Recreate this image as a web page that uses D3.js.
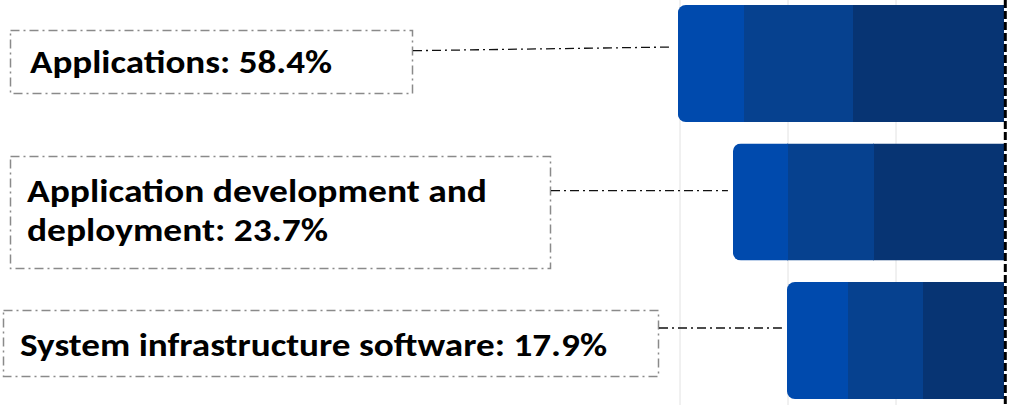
<!DOCTYPE html>
<html>
<head>
<meta charset="utf-8">
<script src="https://cdn.jsdelivr.net/npm/d3@7"></script>
<style>
  html, body { margin: 0; padding: 0; background: #fff; }
  svg { display: block; }
  .lbl { font-family: Carlito, Calibri, Lato, sans-serif; font-weight: 700; fill: #000; }
</style>
</head>
<body>
<div id="chart"></div>
<script>
// Donnees
const categories = ["Applications", "Application development and deployment", "System infrastructure software"];
const shares = [58.4, 23.7, 17.9];
const labelLines = [
    ["Applications: 58.4%"],
    ["Application development and", "deployment: 23.7%"],
    ["System infrastructure software: 17.9%"]
];
// segments, de droite (fonce) a gauche (clair)
const segDark = [1.41, 1.21, 0.76];
const segMid = [1.01, 0.80, 0.69];
const segLight = [0.60, 0.50, 0.56];
const gridTicks = [1, 2, 3];

const segColors = ["#073473", "#06418f", "#004aad"];

// mise en page des etiquettes
const boxes = [
    {x: 10, y: 30, w: 402, h: 63, tx: 30, base: [73], len: [302], ly0: 50.7, ly1: 47},
    {x: 10, y: 156, w: 540, h: 112, tx: 27, base: [202, 241], len: [460, 301], ly0: 190.7, ly1: 190.7},
    {x: 3, y: 310, w: 655, h: 66, tx: 20, base: [356], len: [587], ly0: 328, ly1: 328}
];

const W = 1012, H = 405;
const svg = d3.select("#chart").append("svg")
    .attr("width", W)
    .attr("height", H);

// echelles
const x = d3.scaleLinear()
    .domain([0, 3])
    .range([1004, 680]);
const y = d3.scaleBand()
    .domain(categories)
    .range([5, 399])
    .paddingInner(0.155)
    .paddingOuter(0);

// grille
svg.append("g")
    .selectAll("line")
    .data(gridTicks)
    .join("line")
    .attr("x1", d => x(d)).attr("x2", d => x(d))
    .attr("y1", 0).attr("y2", H)
    .attr("stroke", "#e2e2e2")
    .attr("stroke-width", 1);

// donnees empilees
const rows = categories.map((c, i) => {
    const vals = [segDark[i], segMid[i], segLight[i]];
    let acc = 0;
    const segs = vals.map((v, k) => {
        const s = {x0: acc, x1: acc + v, k: k};
        acc += v;
        return s;
    });
    return {cat: c, share: shares[i], total: acc, segs: segs, i: i};
});

const defs = svg.append("defs");
rows.forEach(r => {
    defs.append("clipPath")
        .attr("id", "clip" + r.i)
        .append("rect")
        .attr("x", x(r.total))
        .attr("y", y(r.cat))
        .attr("width", x(0) - x(r.total) + 12)
        .attr("height", y.bandwidth())
        .attr("rx", 8).attr("ry", 8);
});

const bars = svg.append("g")
    .selectAll("g")
    .data(rows)
    .join("g")
    .attr("clip-path", d => `url(#clip${d.i})`);

// chaque segment deborde un peu sous son voisin de gauche pour eviter les joints
bars.selectAll("rect")
    .data(d => d.segs.map(s => Object.assign({cat: d.cat}, s)))
    .join("rect")
    .attr("x", d => Math.round(x(d.x1)))
    .attr("y", d => y(d.cat))
    .attr("width", d => Math.round(x(d.x0)) - Math.round(x(d.x1)) + (d.k === 0 ? 0 : 1))
    .attr("height", y.bandwidth())
    .attr("fill", d => segColors[d.k]);

// axe en pointilles
svg.append("line")
    .attr("x1", x(0) + 1.3).attr("x2", x(0) + 1.3)
    .attr("y1", 0).attr("y2", H)
    .attr("stroke", "#000")
    .attr("stroke-width", 3)
    .attr("stroke-dasharray", "8,3");

// etiquettes
const lab = svg.append("g")
    .selectAll("g")
    .data(rows)
    .join("g");

lab.append("rect")
    .attr("x", d => boxes[d.i].x + 0.5)
    .attr("y", d => boxes[d.i].y + 0.5)
    .attr("width", d => boxes[d.i].w)
    .attr("height", d => boxes[d.i].h)
    .attr("fill", "none")
    .attr("stroke", "#8a8a8a")
    .attr("stroke-width", 1.5)
    .attr("stroke-dasharray", "9,4,2,4");

lab.append("line")
    .attr("x1", d => boxes[d.i].x + boxes[d.i].w + 1)
    .attr("y1", d => boxes[d.i].ly0)
    .attr("x2", d => x(d.total) - 5)
    .attr("y2", d => boxes[d.i].ly1)
    .attr("stroke", "#111")
    .attr("stroke-width", 1.3)
    .attr("stroke-dasharray", "9,4,2,4");

lab.each(function(d) {
    const b = boxes[d.i];
    labelLines[d.i].forEach((t, j) => {
        d3.select(this).append("text")
            .attr("class", "lbl")
            .attr("x", b.tx)
            .attr("y", b.base[j])
            .attr("font-size", 33)
            .attr("textLength", b.len[j])
            .attr("lengthAdjust", "spacingAndGlyphs")
            .text(t);
    });
});
</script>
</body>
</html>
